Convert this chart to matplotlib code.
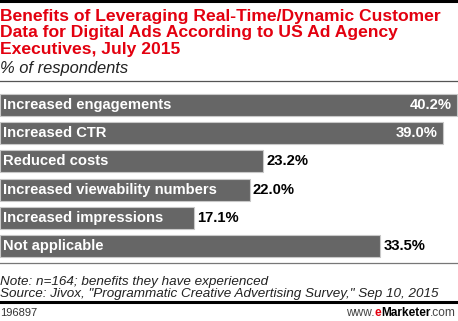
import matplotlib
matplotlib.use("Agg")
from matplotlib.pyplot import figure
from matplotlib.lines import Line2D

categories = [
    "Increased engagements",
    "Increased CTR",
    "Reduced costs",
    "Increased viewability numbers",
    "Increased impressions",
    "Not applicable",
]
values = [40.2, 39.0, 23.2, 22.0, 17.1, 33.5]
inside_label = [True, True, False, False, False, False]

title = ("Benefits of Leveraging Real-Time/Dynamic Customer\n"
         "Data for Digital Ads According to US Ad Agency\n"
         "Executives, July 2015")
subtitle = "% of respondents"
note = "Note: n=164; benefits they have experienced"
source = 'Source: Jivox, "Programmatic Creative Advertising Survey," Sep 10, 2015'
chart_id = "196897"

W, H = 458, 321
RED = "#e3000f"
BAR = "#666666"
FONT = "Liberation Sans"


def fy(px):
    # pixel row from top -> figure fraction
    return 1 - px / H


fig = figure(figsize=(W / 100, H / 100), dpi=100)
fig.patch.set_facecolor("white")

# Header
fig.add_artist(Line2D([0, 1], [fy(1), fy(1)], color="black", lw=2.2))
fig.text(0.0, fy(54), title, color=RED, fontsize=12.6, fontweight="bold",
         family=FONT, va="baseline", ha="left", linespacing=1.13)
fig.text(0.0, fy(73), subtitle, fontsize=11.9, style="italic", family=FONT,
         va="baseline", ha="left", color="#222222")
fig.add_artist(Line2D([0, 1], [fy(80.5), fy(80.5)], color="#555555", lw=0.9))

# Bars
ax = fig.add_axes([0, fy(260.1), 1, (260.1 - 90.9) / H])
ypos = list(range(len(categories)))
ax.barh(ypos, values, height=0.78, color=BAR, edgecolor="#c8c8c8",
        linewidth=0.8)
ax.set_xlim(0, W / 11.357)
ax.set_ylim(len(categories) - 0.5, -0.5)
ax.axis("off")

for y, cat, v, inside in zip(ypos, categories, values, inside_label):
    ax.annotate(cat, (0, y), xytext=(3, 0), textcoords="offset pixels",
                ha="left", va="center", color="white", fontsize=10.6,
                fontweight="bold", family=FONT)
    if inside:
        ax.annotate("{:.1f}%".format(v), (v, y), xytext=(-5, 0),
                    textcoords="offset pixels", ha="right", va="center",
                    color="white", fontsize=10.6, fontweight="bold",
                    family=FONT)
    else:
        ax.annotate("{:.1f}%".format(v), (v, y), xytext=(3, 0),
                    textcoords="offset pixels", ha="left", va="center",
                    color="black", fontsize=10.6, fontweight="bold",
                    family=FONT)

# Footer
fig.add_artist(Line2D([0, 1], [fy(263), fy(263)], color="#777777", lw=0.9))
fig.text(0.0, fy(285), note, fontsize=9.7, style="italic", family=FONT,
         va="baseline", ha="left", color="#222222")
fig.text(0.0, fy(297), source, fontsize=9.7, style="italic", family=FONT,
         va="baseline", ha="left", color="#222222")
fig.add_artist(Line2D([0, 1], [fy(302), fy(302)], color="black", lw=2.2))
fig.text(0.0, fy(316), chart_id, fontsize=8, family=FONT,
         va="baseline", ha="left", color="#333333")

# eMarketer logo, assembled right to left
r = fig.canvas.get_renderer()
x = 1 - 2 / W
for txt, col, wt in [(".com", "#444444", "normal"), ("Marketer", "black", "bold"),
                     ("e", RED, "bold"), ("www.", "#444444", "normal")]:
    t = fig.text(x, fy(316), txt, fontsize=8.6, family=FONT, color=col,
                 fontweight=wt, va="baseline", ha="right")
    bb = t.get_window_extent(renderer=r)
    x -= bb.width / W

fig.savefig("out.png", dpi=100, facecolor="white")
